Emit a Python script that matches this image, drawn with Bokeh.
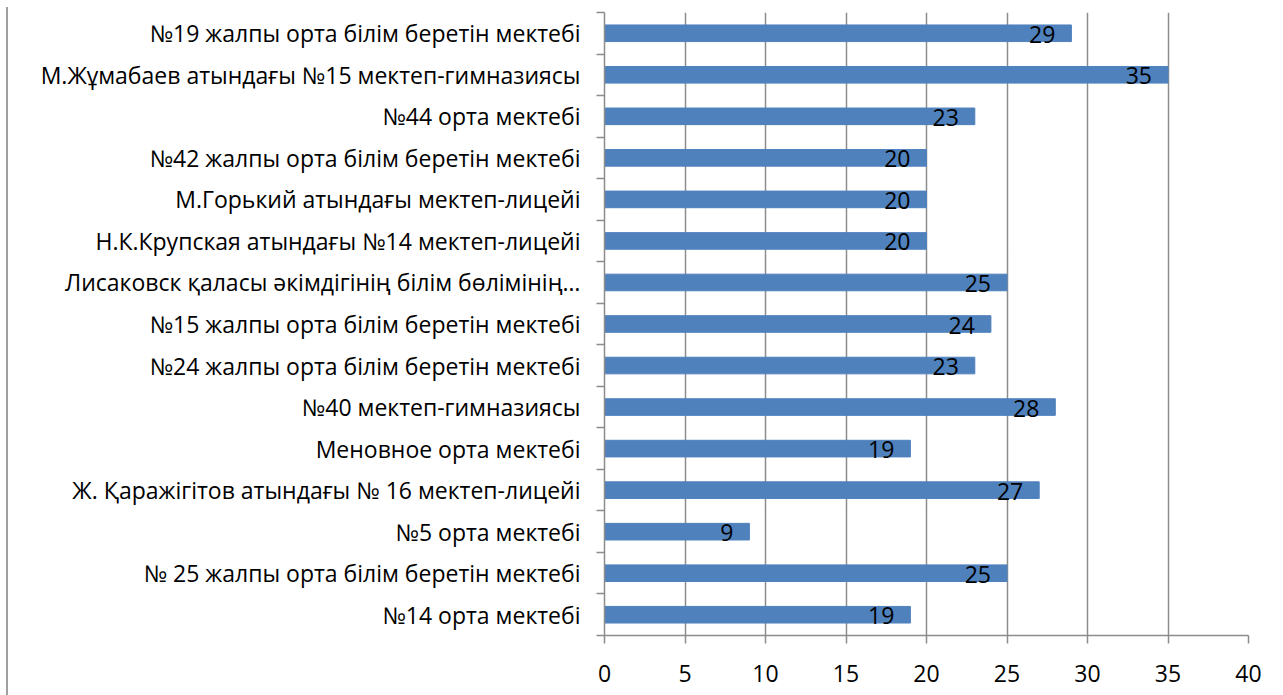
from bokeh.plotting import figure
from bokeh.models import Range1d, FixedTicker, ColumnDataSource
from bokeh.core.properties import value
from bokeh.embed import file_html
from bokeh.resources import INLINE

schools = [
    "№19 жалпы орта білім беретін мектебі",
    "М.Жұмабаев атындағы №15 мектеп-гимназиясы",
    "№44 орта мектебі",
    "№42 жалпы орта білім беретін мектебі",
    "М.Горький атындағы мектеп-лицейі",
    "Н.К.Крупская атындағы №14 мектеп-лицейі",
    "Лисаковск қаласы әкімдігінің білім бөлімінің…",
    "№15 жалпы орта білім беретін мектебі",
    "№24 жалпы орта білім беретін мектебі",
    "№40 мектеп-гимназиясы",
    "Меновное орта мектебі",
    "Ж. Қаражігітов атындағы № 16 мектеп-лицейі",
    "№5 орта мектебі",
    "№ 25 жалпы орта білім беретін мектебі",
    "№14 орта мектебі",
]
values = [29, 35, 23, 20, 20, 20, 25, 24, 23, 28, 19, 27, 9, 25, 19]
x_ticks = [0, 5, 10, 15, 20, 25, 30, 35, 40]

FONT = "Open Sans"
FS = "23px"
GRAY = "#8c8c8c"

n = len(schools)
ypos = [n - 1 - i for i in range(n)]
src = ColumnDataSource(dict(y=ypos, v=values, lab=[str(v) for v in values]))

p = figure(width=1265, height=688, x_range=Range1d(0, 40), y_range=Range1d(-0.5, n - 0.5),
           output_backend="svg", toolbar_location=None,
           min_border_left=596, min_border_right=25, min_border_top=5, min_border_bottom=60)
p.styles = {"border-left": "2px solid #a0a0a0", "margin-left": "6px", "margin-top": "7px"}
p.outline_line_color = None
p.background_fill_color = "white"

p.hbar(y="y", right="v", left=0, height=0.4, source=src, color="#4f81bd")
p.text(x="v", y="y", text="lab", source=src, text_align="right", text_baseline="middle",
       x_offset=-16, y_offset=1, text_font=value(FONT), text_font_size=FS, text_color="black")

# y axis
p.yaxis.ticker = FixedTicker(ticks=ypos, minor_ticks=[k - 0.5 for k in range(n + 1)])
p.yaxis.major_label_overrides = {y: s for y, s in zip(ypos, schools)}
p.yaxis.major_tick_out = 0
p.yaxis.major_tick_in = 0
p.yaxis.minor_tick_out = 8
p.yaxis.minor_tick_in = 0
p.yaxis.minor_tick_line_color = GRAY
p.yaxis.minor_tick_line_width = 1.5
p.yaxis.axis_line_color = GRAY
p.yaxis.axis_line_width = 1.5
p.yaxis.major_label_standoff = 16
p.yaxis.major_label_text_font = FONT
p.yaxis.major_label_text_font_size = FS
p.yaxis.major_label_text_color = "black"

# x axis
p.xaxis.ticker = FixedTicker(ticks=x_ticks)
p.xaxis.major_tick_out = 8
p.xaxis.major_tick_in = 0
p.xaxis.minor_tick_line_color = None
p.xaxis.major_tick_line_color = GRAY
p.xaxis.major_tick_line_width = 1.5
p.xaxis.axis_line_color = GRAY
p.xaxis.axis_line_width = 1.5
p.xaxis.major_label_standoff = 21
p.xaxis.major_label_text_font = FONT
p.xaxis.major_label_text_font_size = FS
p.xaxis.major_label_text_color = "black"

p.xgrid.ticker = FixedTicker(ticks=x_ticks)
p.xgrid.grid_line_color = GRAY
p.xgrid.grid_line_width = 1.5
p.ygrid.grid_line_color = None

open("out.html", "w").write(file_html(p, INLINE))
